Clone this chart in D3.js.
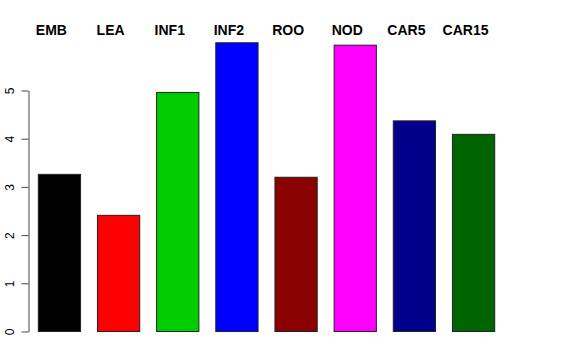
<!DOCTYPE html>
<html><head><meta charset="utf-8">
<script src="https://cdn.jsdelivr.net/npm/d3@7"></script>
<style>body{margin:0;background:#fff}</style>
</head><body>
<script>
const categories = ["EMB","LEA","INF1","INF2","ROO","NOD","CAR5","CAR15"];
const values = [3.26, 2.41, 4.96, 5.99, 3.20, 5.94, 4.37, 4.09];
const colors = ["#000000","#FF0000","#00CD00","#0000FF","#8B0000","#FF00FF","#00008B","#006400"];
const yTicks = [0,1,2,3,4,5];

const svg = d3.select("body").append("svg").attr("width",576).attr("height",360);
const x = d3.scaleBand().domain(categories).range([38.3,494.7]).paddingInner(0.4/1.4).paddingOuter(0);
const y = d3.scaleLinear().domain([0,5]).range([331.5,90.5]);

svg.selectAll("rect.bar").data(categories).enter().append("rect")
  .attr("class","bar")
  .attr("x", d=>x(d)).attr("width", x.bandwidth())
  .attr("y", (d,i)=>y(values[i])).attr("height", (d,i)=>y(0)-y(values[i]))
  .attr("fill",(d,i)=>colors[i]).attr("stroke","#222").attr("stroke-width",1);

svg.selectAll("text.lab").data(categories).enter().append("text")
  .attr("x", d=>x(d)+x.bandwidth()/2-8).attr("y",35)
  .attr("text-anchor","middle").attr("font-family","Liberation Sans, Arial, sans-serif")
  .attr("font-weight","bold").attr("font-size",14).text(d=>d);

const axis = svg.append("g").attr("transform","translate(28.5,0)")
  .call(d3.axisLeft(y).tickValues(yTicks).tickSize(7).tickSizeOuter(0).tickFormat(d3.format("d")));
axis.select(".domain").attr("stroke","#444");
axis.selectAll(".tick line").attr("stroke","#444");
axis.selectAll(".tick text").attr("font-family","Liberation Sans, Arial, sans-serif").attr("font-size",12)
  .attr("fill","#000").attr("text-anchor","middle").attr("dy",null)
  .attr("transform","translate(-19,0) rotate(-90)").attr("x",0).attr("y",4);
</script>
</body></html>
